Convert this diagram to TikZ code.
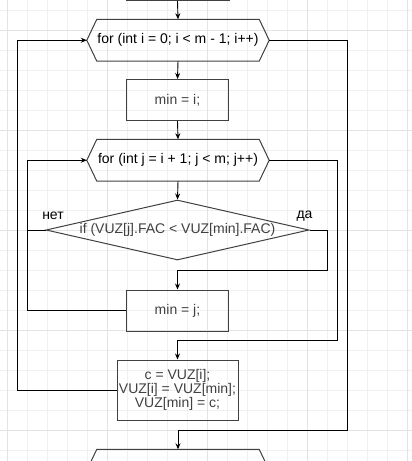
\documentclass[tikz,border=0pt]{standalone}
\usepackage{fontspec}
\setmainfont{Liberation Sans}
\usetikzlibrary{shapes.geometric,arrows.meta}

\tikzset{
  gridminor/.style={line width=1pt, black!6},
  gridmajor/.style={line width=1pt, black!11},
  boxline/.style={line width=1pt, black!75},
  procbox/.style={rectangle, draw, boxline, minimum width=102pt, minimum height=41pt, inner sep=0pt},
  loopbox/.style={rectangle, minimum width=182pt, minimum height=41.5pt, inner sep=0pt},
  condbox/.style={diamond, draw, boxline, aspect=4.38, minimum width=263pt, minimum height=60pt, inner sep=0pt},
  flow/.style={line width=0.9pt, black},
  flowarr/.style={flow, -{Stealth[length=6pt,width=5pt]}}
}

\begin{document}
\begin{tikzpicture}[x=1pt, y=-1pt, font=\fontsize{14}{14}\selectfont]
  \useasboundingbox (0,0) rectangle (412,461);
  \clip (0,0) rectangle (412,461);
  % grid
  \foreach \x in {7.7,27.7,...,407.7}
    \draw[gridminor] (\x,0) -- (\x,461);
  \foreach \y in {10,30,...,450}
    \draw[gridminor] (0,\y) -- (412,\y);
  \foreach \x in {7.7,107.7,...,407.7}
    \draw[gridmajor] (\x,0) -- (\x,461);
  \foreach \y in {30,130,...,430}
    \draw[gridmajor] (0,\y) -- (412,\y);

  % blocks
  \node[procbox, minimum width=103pt] (start) at (177.5,-20) {};
  \node[loopbox] (fori) at (178,40.25) {for (int i = 0; i < m - 1; i++)};
  \node[procbox] (mini) at (177.5,100) {min = i;};
  \node[loopbox] (forj) at (178,160.25) {for (int j = i + 1; j < m; j++)};
  \node[condbox] (cond) at (177.5,230) {if (VUZ[j].FAC < VUZ[min].FAC)};
  \node[procbox] (minj) at (177.5,310.5) {min = j;};
  \node[procbox, minimum width=121pt, minimum height=60.5pt, align=center] (swap) at (177.5,390.25)
    {c = VUZ[i];\\VUZ[i] = VUZ[min];\\VUZ[min] = c;};
  \node[loopbox] (next) at (178,470.25) {};
  \foreach \n in {fori,forj,next}
    \draw[boxline] (\n.west) -- ([xshift=10pt]\n.north west) -- ([xshift=-10pt]\n.north east)
      -- (\n.east) -- ([xshift=-10pt]\n.south east) -- ([xshift=10pt]\n.south west) -- cycle;

  % labels
  \node (no) at (53,216) {нет};
  \node (yes) at (304.5,216) {да};

  % connectors
  \draw[flowarr] (start.south) -- (fori.north);
  \draw[flowarr] (fori.south) -- (mini.north);
  \draw[flowarr] (mini.south) -- (forj.north);
  \draw[flowarr] (forj.south) -- (cond.north);
  \draw[flowarr] (cond.east) -| ++(18,40) -| (minj.north);
  \draw[flow] (cond.west) -- ++(-18,0);
  \draw[flowarr] (minj.west) -- ++(-99,0) |- (forj.west);
  \draw[flowarr] (forj.east) -| ++(68,180) -| (swap.north);
  \draw[flowarr] (swap.west) -- ++(-99,0) |- (fori.west);
  \draw[flowarr] (fori.east) -| ++(78,390) -| (next.north);
\end{tikzpicture}
\end{document}
